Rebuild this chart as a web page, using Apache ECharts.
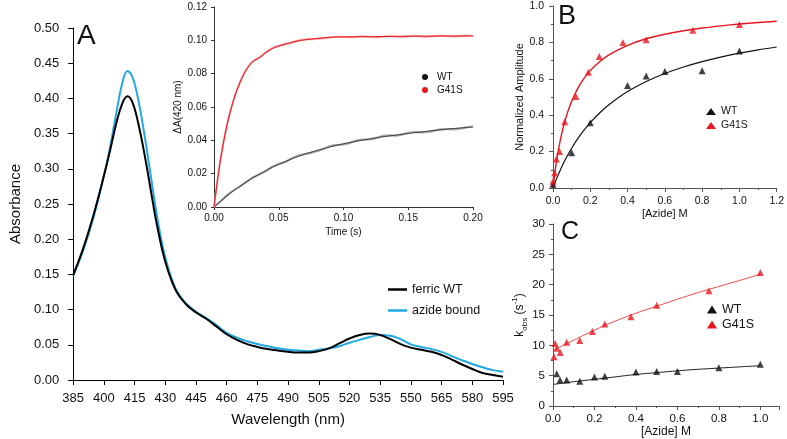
<!DOCTYPE html>
<html><head><meta charset="utf-8">
<script src="https://cdn.jsdelivr.net/npm/echarts@6/dist/echarts.min.js"></script>
<style>html,body{margin:0;padding:0;background:#fff}#c{width:787px;height:439px}</style>
</head><body><div id="c"></div>
<script>
// Panel A: absorbance spectra
const wavelengths = [385,390,395,400,403,406,409,411.5,414,417,420,423,426,430,435,440,445,450,455,460,465,470,475,480,485,490,495,500,505,510,515,520,525,530,535,540,545,550,555,560,565,570,575,580,585,590,595];
const ferricWT = [0.149,0.188,0.235,0.290,0.326,0.364,0.393,0.403,0.394,0.362,0.318,0.268,0.219,0.168,0.128,0.108,0.096,0.087,0.076,0.065,0.057,0.051,0.047,0.044,0.042,0.040,0.039,0.039,0.041,0.045,0.052,0.059,0.064,0.066,0.064,0.058,0.051,0.046,0.043,0.040,0.0355,0.029,0.022,0.0156,0.010,0.007,0.0047];
const azideBound = [0.148,0.185,0.232,0.290,0.330,0.378,0.422,0.439,0.430,0.395,0.345,0.288,0.232,0.174,0.130,0.109,0.097,0.088,0.078,0.067,0.060,0.055,0.051,0.048,0.045,0.043,0.042,0.041,0.043,0.045,0.048,0.053,0.057,0.061,0.064,0.063,0.058,0.0506,0.047,0.044,0.040,0.034,0.028,0.0227,0.018,0.014,0.0118];
const aTicks = [385,400,415,430,445,460,475,490,505,520,535,550,565,580,595];

// Inset: kinetic traces at 420 nm
const tInset = [0,0.005,0.01,0.015,0.02,0.025,0.03,0.035,0.04,0.045,0.05,0.055,0.06,0.065,0.07,0.075,0.08,0.085,0.09,0.095,0.1,0.105,0.11,0.115,0.12,0.125,0.13,0.135,0.14,0.145,0.15,0.155,0.16,0.165,0.17,0.175,0.18,0.185,0.19,0.195,0.2];
const wtTrace = [0,0.0033,0.0070,0.0100,0.0122,0.0150,0.0178,0.0195,0.0216,0.0242,0.0258,0.0270,0.0292,0.0309,0.0318,0.0325,0.0337,0.0350,0.0366,0.0372,0.0376,0.0385,0.0398,0.0404,0.0405,0.0413,0.0425,0.0430,0.0428,0.0434,0.0445,0.0450,0.0448,0.0450,0.0458,0.0466,0.0468,0.0466,0.0470,0.0478,0.0483];
const wtFit = [0,0.0035,0.0067,0.0097,0.0125,0.0151,0.0175,0.0197,0.0218,0.0238,0.0256,0.0272,0.0288,0.0303,0.0316,0.0329,0.0340,0.0351,0.0361,0.0371,0.0379,0.0387,0.0395,0.0402,0.0409,0.0415,0.0421,0.0426,0.0431,0.0436,0.0441,0.0446,0.0450,0.0455,0.0459,0.0463,0.0467,0.0471,0.0474,0.0477,0.0480];
const g41sTrace = [0,0.0286,0.0492,0.0640,0.0748,0.0826,0.0874,0.0897,0.0928,0.0953,0.0966,0.0976,0.0986,0.0999,0.1005,0.1007,0.1010,0.1012,0.1018,0.1022,0.1020,0.1018,0.1021,0.1024,0.1021,0.1018,0.1022,0.1025,0.1023,0.1021,0.1024,0.1027,0.1024,0.1022,0.1025,0.1028,0.1026,0.1023,0.1025,0.1027,0.1027];
const g41sFit = [0,0.0284,0.0490,0.0638,0.0746,0.0823,0.0872,0.0895,0.0925,0.0950,0.0966,0.0978,0.0988,0.0996,0.1003,0.1008,0.1012,0.1015,0.1018,0.1020,0.1021,0.1021,0.1022,0.1022,0.1022,0.1023,0.1023,0.1023,0.1024,0.1024,0.1024,0.1025,0.1025,0.1025,0.1025,0.1026,0.1026,0.1026,0.1026,0.1027,0.1027];

// Panel B: normalized amplitude vs [azide]
const bAzideWT = [0.0,0.1,0.2,0.4,0.5,0.6,0.8,1.0];
const bAmpWT = [0.02,0.194,0.358,0.563,0.616,0.640,0.644,0.753];
const bAzideG41S = [0.0,0.009,0.018,0.035,0.063,0.123,0.19,0.248,0.375,0.5,0.75,1.0];
const bAmpG41S = [0.037,0.082,0.160,0.200,0.364,0.503,0.636,0.722,0.800,0.815,0.867,0.898];
const bFitX = [0,0.01,0.02,0.04,0.06,0.08,0.1,0.13,0.16,0.2,0.25,0.3,0.4,0.5,0.6,0.7,0.8,0.9,1.0,1.1,1.2];
const bFitWT = [0,0.0272,0.0529,0.1005,0.1437,0.1829,0.2187,0.2669,0.3096,0.3594,0.4124,0.4575,0.5298,0.5854,0.6293,0.6650,0.6946,0.7195,0.7406,0.7589,0.7748];
const bFitG41S = [0,0.083,0.154,0.267,0.353,0.421,0.476,0.542,0.593,0.645,0.694,0.732,0.784,0.820,0.845,0.864,0.879,0.891,0.901,0.909,0.916];

// Panel C: kobs vs [azide]
const cAzideWT = [0.018,0.034,0.066,0.129,0.2,0.25,0.4,0.5,0.6,0.8,1.0];
const cKobsWT = [5.3,4.3,4.3,4.1,4.8,4.9,5.6,5.7,5.7,6.3,6.9];
const cAzideG41S = [0.005,0.01,0.019,0.035,0.066,0.129,0.19,0.25,0.376,0.5,0.752,1.0];
const cKobsG41S = [8.1,10.3,9.5,8.8,10.5,10.8,12.3,13.5,14.7,16.6,19.0,22.0];
const cFitX = [0,0.05,0.1,0.15,0.2,0.25,0.3,0.4,0.5,0.6,0.7,0.8,0.9,1.0];
const cFitWT = [3.55,3.78,4.0,4.2,4.4,4.6,4.8,5.2,5.5,5.8,6.05,6.25,6.45,6.65];
const cFitG41S = [9.1,10.0,10.85,11.7,12.5,13.3,14.0,15.3,16.45,17.6,18.7,19.7,20.7,21.7];

const zip = (xs, ys) => xs.map((x, i) => [x, ys[i]]);
const FONT = 'Liberation Sans, Arial, sans-serif';
const BLUE = '#1fa8e6', RED = '#e8161e';

function axisBase(color, fs, margin) {
  return {
    axisLine: {show: true, onZero: false, lineStyle: {color: color, width: 1}},
    axisTick: {show: true, inside: false, length: 4, lineStyle: {color: color}},
    axisLabel: {fontFamily: FONT, fontSize: fs, color: '#111', margin: margin},
    splitLine: {show: false},
    nameTextStyle: {fontFamily: FONT, color: '#111'}
  };
}
function mk(base, extra) {
  const o = JSON.parse(JSON.stringify(base));
  for (const k in extra) {
    if (typeof extra[k] === 'object' && !Array.isArray(extra[k]) && o[k]) Object.assign(o[k], extra[k]);
    else o[k] = extra[k];
  }
  return o;
}

const chart = echarts.init(document.getElementById('c'), null, {renderer: 'canvas'});
const xA = mk(axisBase('#000', 13, 12), {
  type: 'value', gridIndex: 0, min: 385, max: 595, interval: 15,
  name: 'Wavelength (nm)', nameLocation: 'middle', nameGap: 32,
  nameTextStyle: {fontSize: 15},
  axisTick: {length: 5}
});
xA.axisLabel.formatter = v => String(Math.round(v));
const yA = mk(axisBase('#000', 13, 14), {
  type: 'value', gridIndex: 0, min: 0, max: 0.5, interval: 0.05,
  name: 'Absorbance', nameLocation: 'middle', nameGap: 45,
  nameTextStyle: {fontSize: 15},
  axisTick: {length: 5}
});
yA.axisLabel.formatter = v => v.toFixed(2);

const xI = mk(axisBase('#333', 10, 6), {
  type: 'value', gridIndex: 1, min: 0, max: 0.2, interval: 0.05,
  name: 'Time (s)', nameLocation: 'middle', nameGap: 20, nameTextStyle: {fontSize: 10},
  axisTick: {length: 3}
});
xI.axisLabel.formatter = v => v.toFixed(2);
const yI = mk(axisBase('#333', 10, 7), {
  type: 'value', gridIndex: 1, min: 0, max: 0.12, interval: 0.02,
  name: 'ΔA(420 nm)', nameLocation: 'middle', nameGap: 29, nameTextStyle: {fontSize: 10},
  axisTick: {length: 3}
});
yI.axisLabel.formatter = v => v.toFixed(2);

const xB = mk(axisBase('#555', 10.5, 8), {
  type: 'value', gridIndex: 2, min: 0, max: 1.2, interval: 0.2,
  name: '[Azide] M', nameLocation: 'middle', nameGap: 20, nameTextStyle: {fontSize: 11},
  minorTick: {show: true, splitNumber: 2, length: 2, lineStyle: {color: '#555'}}
});
xB.axisLabel.formatter = v => v.toFixed(1);
const yB = mk(axisBase('#555', 10.5, 9), {
  type: 'value', gridIndex: 2, min: 0, max: 1.0, interval: 0.2,
  name: 'Normalized Amplitude', nameLocation: 'middle', nameGap: 22, nameTextStyle: {fontSize: 11},
  minorTick: {show: true, splitNumber: 2, length: 2, lineStyle: {color: '#555'}}
});
yB.axisLabel.formatter = v => v.toFixed(1);

const xC = mk(axisBase('#555', 11.5, 7), {
  type: 'value', gridIndex: 3, min: 0, max: 1.09, interval: 0.2,
  name: '[Azide] M', nameLocation: 'middle', nameGap: 19, nameTextStyle: {fontSize: 12},
  minorTick: {show: true, splitNumber: 2, length: 2, lineStyle: {color: '#555'}}
});
xC.axisLabel.formatter = v => (Math.abs(v * 5 - Math.round(v * 5)) < 1e-6 ? v.toFixed(1) : '');
xC.axisLabel.showMaxLabel = false;
const yC = mk(axisBase('#555', 11.5, 8), {
  type: 'value', gridIndex: 3, min: 0, max: 30, interval: 5,
  name: '{k|k}{s|obs}{k| (s}{p|-1}{k|)}', nameLocation: 'middle', nameGap: 20,
  minorTick: {show: true, splitNumber: 2, length: 2, lineStyle: {color: '#555'}}
});
yC.nameTextStyle.rich = {
  k: {fontFamily: FONT, fontSize: 12, lineHeight: 18, color: '#111'},
  s: {fontFamily: FONT, fontSize: 8, lineHeight: 18, verticalAlign: 'bottom', color: '#111'},
  p: {fontFamily: FONT, fontSize: 8, lineHeight: 18, verticalAlign: 'top', color: '#111'}
};

const option = {
  animation: false,
  backgroundColor: '#fff',
  grid: [
    {left: 60, top: 28, width: 443, height: 352},
    {left: 214, top: 7, width: 259, height: 200},
    {left: 553, top: 6, width: 227, height: 182},
    {left: 553, top: 224, width: 226, height: 182}
  ],
  xAxis: [xA, xI, xB, xC],
  yAxis: [yA, yI, yB, yC],
  legend: [
    {orient: 'vertical', left: 388, top: 283, itemWidth: 19, itemHeight: 2.5, itemGap: 8, icon: 'rect',
     selectedMode: false, padding: 0,
     textStyle: {fontFamily: FONT, fontSize: 12.5, color: '#111'},
     data: [{name: 'ferric WT', itemStyle: {color: '#000'}}, {name: 'azide bound', itemStyle: {color: BLUE}}]},
    {orient: 'vertical', left: 422, top: 72, itemWidth: 14, itemHeight: 6, itemGap: 3, icon: 'circle',
     selectedMode: false, padding: 0,
     textStyle: {fontFamily: FONT, fontSize: 10, color: '#111'},
     data: [{name: 'WT', itemStyle: {color: '#111'}}, {name: 'G41S', itemStyle: {color: RED}}]},
    {orient: 'vertical', left: 706, top: 106, itemWidth: 10, itemHeight: 7, itemGap: 3, icon: 'triangle',
     selectedMode: false, padding: 0,
     textStyle: {fontFamily: FONT, fontSize: 10.5, color: '#111'},
     data: [{name: 'WT', itemStyle: {color: '#111'}}, {name: 'G41S', itemStyle: {color: RED}}]},
    {orient: 'vertical', left: 707, top: 303, itemWidth: 10, itemHeight: 8, itemGap: 2, icon: 'triangle',
     selectedMode: false, padding: 0,
     textStyle: {fontFamily: FONT, fontSize: 12.5, color: '#111'},
     data: [{name: 'WT', itemStyle: {color: '#111'}}, {name: 'G41S', itemStyle: {color: RED}}]}
  ],
  graphic: [
    {type: 'text', left: 77, top: 22, style: {text: 'A', font: '28px ' + FONT, fill: '#111'}},
    {type: 'text', left: 558, top: 3, style: {text: 'B', font: '27px ' + FONT, fill: '#111'}},
    {type: 'text', left: 561, top: 220, style: {text: 'C', font: '25px ' + FONT, fill: '#111'}}
  ],
  series: [
    {name: 'ferric WT', type: 'line', xAxisIndex: 0, yAxisIndex: 0, smooth: 0.4, showSymbol: false,
     lineStyle: {color: '#000', width: 2}, itemStyle: {color: '#000'}, data: zip(wavelengths, ferricWT), z: 3},
    {name: 'azide bound', type: 'line', xAxisIndex: 0, yAxisIndex: 0, smooth: 0.4, showSymbol: false,
     lineStyle: {color: BLUE, width: 2}, itemStyle: {color: BLUE}, data: zip(wavelengths, azideBound), z: 2},

    {name: 'WT', type: 'line', xAxisIndex: 1, yAxisIndex: 1, smooth: 0.3, showSymbol: false,
     lineStyle: {color: '#a8a8a8', width: 2.2}, itemStyle: {color: '#111'}, data: zip(tInset, wtTrace)},
    {name: 'WT fit', type: 'line', xAxisIndex: 1, yAxisIndex: 1, smooth: 0.3, showSymbol: false,
     lineStyle: {color: '#222', width: 0.8}, data: zip(tInset, wtFit)},
    {name: 'G41S', type: 'line', xAxisIndex: 1, yAxisIndex: 1, smooth: 0.3, showSymbol: false,
     lineStyle: {color: '#f39a9a', width: 2}, itemStyle: {color: RED}, data: zip(tInset, g41sTrace)},
    {name: 'G41S fit', type: 'line', xAxisIndex: 1, yAxisIndex: 1, smooth: 0.3, showSymbol: false,
     lineStyle: {color: RED, width: 1}, data: zip(tInset, g41sFit)},

    {name: 'WT fit B', type: 'line', xAxisIndex: 2, yAxisIndex: 2, smooth: 0.3, showSymbol: false,
     lineStyle: {color: '#111', width: 1.2}, data: zip(bFitX, bFitWT)},
    {name: 'G41S fit B', type: 'line', xAxisIndex: 2, yAxisIndex: 2, smooth: 0.3, showSymbol: false,
     lineStyle: {color: RED, width: 1.4}, data: zip(bFitX, bFitG41S)},
    {name: 'WT', type: 'scatter', xAxisIndex: 2, yAxisIndex: 2, symbol: 'triangle', symbolSize: 7,
     itemStyle: {color: '#111'}, data: zip(bAzideWT, bAmpWT), z: 4},
    {name: 'G41S', type: 'scatter', xAxisIndex: 2, yAxisIndex: 2, symbol: 'triangle', symbolSize: 7,
     itemStyle: {color: RED}, data: zip(bAzideG41S, bAmpG41S), z: 4},

    {name: 'WT fit C', type: 'line', xAxisIndex: 3, yAxisIndex: 3, smooth: 0.3, showSymbol: false,
     lineStyle: {color: '#222', width: 1}, data: zip(cFitX, cFitWT)},
    {name: 'G41S fit C', type: 'line', xAxisIndex: 3, yAxisIndex: 3, smooth: 0.3, showSymbol: false,
     lineStyle: {color: '#f04b4b', width: 1}, data: zip(cFitX, cFitG41S)},
    {name: 'WT', type: 'scatter', xAxisIndex: 3, yAxisIndex: 3, symbol: 'triangle', symbolSize: 7,
     itemStyle: {color: '#111'}, data: zip(cAzideWT, cKobsWT), z: 4},
    {name: 'G41S', type: 'scatter', xAxisIndex: 3, yAxisIndex: 3, symbol: 'triangle', symbolSize: 7,
     itemStyle: {color: RED}, data: zip(cAzideG41S, cKobsG41S), z: 4}
  ]
};
chart.setOption(option);
</script></body></html>
